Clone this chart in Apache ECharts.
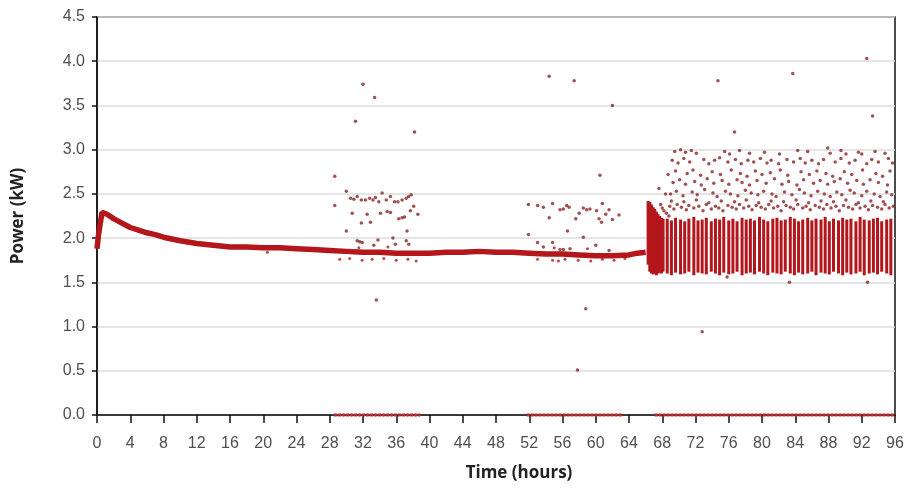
<!DOCTYPE html>
<html>
<head>
<meta charset="utf-8">
<script src="https://cdn.jsdelivr.net/npm/echarts@6/dist/echarts.min.js"></script>
<style>html,body{margin:0;padding:0;background:#fff}#c{width:909px;height:488px}</style>
</head>
<body>
<div id="c"></div>
<script>
// ---- data ----
const xTicks = [0,4,8,12,16,20,24,28,32,36,40,44,48,52,56,60,64,68,72,76,80,84,88,92,96];
const yTicks = [0,0.5,1,1.5,2,2.5,3,3.5,4,4.5];

// steady trace 0-66 h
const baseTimes = [0,0.2,0.6,1.2,2.0,3.0,4,5,6,7,8,10,12,14,16,18,20,22,24,26,28,30,32,34,36,38,40,42,44,46,48,50,52,54,56,58,60,62,64,65,66];
const basePower = [1.88,2.05,2.29,2.27,2.22,2.17,2.12,2.09,2.06,2.04,2.01,1.97,1.94,1.92,1.90,1.90,1.89,1.89,1.88,1.87,1.86,1.85,1.84,1.84,1.83,1.83,1.83,1.84,1.84,1.85,1.84,1.84,1.83,1.82,1.82,1.81,1.80,1.80,1.81,1.83,1.84];

// vertical cycling stripes (burst at 66 h then regular cycling)
const stripeTimes = [66.3,66.5,66.7,66.9,67.1,67.3,67.5,67.7,67.9,68.1,68.6,69.1,69.6,70.2,70.7,71.2,71.8,72.3,72.8,73.3,73.9,74.4,74.9,75.4,76.0,76.5,77.0,77.6,78.1,78.6,79.1,79.7,80.2,80.7,81.3,81.8,82.3,82.8,83.4,83.9,84.4,84.9,85.5,86.0,86.5,87.1,87.6,88.1,88.6,89.2,89.7,90.2,90.7,91.3,91.8,92.3,92.9,93.4,93.9,94.4,95.0,95.5];
const stripeLow   = [1.70,1.62,1.60,1.59,1.60,1.58,1.60,1.61,1.60,1.62,1.60,1.58,1.61,1.59,1.60,1.62,1.58,1.61,1.60,1.59,1.62,1.60,1.58,1.61,1.59,1.60,1.62,1.58,1.60,1.61,1.59,1.62,1.60,1.58,1.61,1.60,1.59,1.62,1.60,1.58,1.61,1.59,1.60,1.62,1.58,1.61,1.60,1.59,1.62,1.60,1.58,1.61,1.59,1.60,1.62,1.58,1.60,1.61,1.59,1.62,1.60,1.58];
const stripeHigh  = [2.42,2.41,2.38,2.35,2.33,2.30,2.27,2.25,2.23,2.22,2.22,2.20,2.23,2.21,2.19,2.22,2.24,2.20,2.21,2.23,2.19,2.22,2.21,2.24,2.20,2.22,2.19,2.23,2.21,2.22,2.20,2.24,2.21,2.19,2.22,2.23,2.20,2.21,2.24,2.22,2.19,2.21,2.23,2.20,2.22,2.21,2.24,2.19,2.22,2.20,2.23,2.21,2.22,2.19,2.24,2.21,2.20,2.22,2.23,2.19,2.21,2.22];

// readings scattered above the cycling band, 67-96 h
const aboveBand = [
 [67.6,2.56],[67.8,2.38],[68.0,2.34],[68.2,2.31],[68.4,2.50],[68.5,2.28],[68.8,2.25],
 [68.9,2.36],[69.4,2.33],[69.8,2.38],[70.3,2.35],[70.9,2.32],[71.2,2.37],[71.8,2.34],[72.4,2.36],[72.9,2.31],[73.3,2.38],[73.9,2.33],[74.4,2.36],[74.8,2.34],[75.3,2.31],[75.9,2.37],[76.4,2.35],[76.9,2.33],[77.3,2.38],[77.8,2.34],[78.4,2.36],[78.8,2.32],[79.3,2.37],[79.9,2.35],[80.4,2.33],[80.8,2.38],[81.4,2.34],[81.9,2.36],[82.3,2.31],[82.9,2.37],[83.4,2.35],[83.8,2.33],[84.3,2.38],[84.9,2.34],[85.3,2.36],[85.8,2.32],[86.4,2.37],[86.9,2.35],[87.4,2.33],[87.8,2.38],[88.3,2.34],[88.9,2.36],[89.3,2.31],[89.8,2.37],[90.4,2.35],[90.9,2.33],[91.3,2.38],[91.8,2.34],[92.4,2.36],[92.8,2.32],[93.3,2.37],[93.9,2.35],[94.4,2.33],[94.8,2.38],[95.3,2.34],[95.8,2.36],
 [69.1,2.42],[70.6,2.41],[72.1,2.43],[73.6,2.40],[75.1,2.42],[76.7,2.41],[78.1,2.43],[79.6,2.40],[81.1,2.42],[82.6,2.41],[84.1,2.43],[85.6,2.40],[87.1,2.42],[88.6,2.41],[90.1,2.43],[91.6,2.40],[93.1,2.42],[94.6,2.41],
 [69.0,2.50],[69.7,2.53],[70.5,2.48],[71.6,2.52],[72.2,2.49],[73.1,2.55],[74.1,2.51],[74.6,2.47],[75.6,2.53],[76.2,2.50],[77.1,2.48],[78.0,2.54],[78.7,2.51],[79.5,2.49],[80.2,2.53],[81.2,2.50],[81.7,2.47],[82.7,2.52],[83.6,2.49],[84.5,2.55],[85.1,2.51],[85.9,2.48],[86.7,2.53],[87.5,2.50],[88.2,2.47],[89.0,2.52],[89.6,2.49],[90.6,2.54],[91.1,2.51],[92.0,2.48],[92.6,2.53],[93.5,2.50],[94.2,2.47],[95.0,2.52],[95.6,2.49],
 [69.3,2.63],[70.1,2.66],[70.8,2.61],[71.9,2.64],[72.7,2.60],[73.4,2.67],[74.2,2.62],[75.2,2.65],[76.0,2.61],[77.0,2.66],[77.6,2.63],[78.5,2.60],[79.4,2.65],[80.5,2.62],[81.5,2.67],[82.4,2.61],[83.2,2.64],[84.2,2.60],[85.0,2.66],[86.2,2.62],[87.0,2.65],[87.9,2.61],[88.7,2.64],[89.4,2.67],[90.3,2.62],[91.4,2.65],[92.2,2.61],[93.0,2.66],[94.0,2.63],[95.1,2.60],
 [68.7,2.72],[69.6,2.76],[71.0,2.73],[71.7,2.77],[72.6,2.71],[74.0,2.75],[75.0,2.72],[76.3,2.77],[77.4,2.73],[78.2,2.70],[79.2,2.76],[80.0,2.72],[81.0,2.74],[82.2,2.77],[83.1,2.71],[84.7,2.75],[85.7,2.72],[86.6,2.76],[87.7,2.73],[88.5,2.70],[89.9,2.75],[90.8,2.72],[92.1,2.77],[93.7,2.73],[94.5,2.70],[95.4,2.76],
 [69.2,2.88],[69.9,2.85],[70.6,2.90],[71.3,2.86],[73.0,2.89],[73.6,2.84],[74.3,2.88],[74.9,2.91],[75.9,2.86],[76.8,2.89],[77.5,2.84],[78.3,2.88],[79.0,2.86],[79.8,2.90],[80.6,2.85],[81.1,2.88],[82.0,2.84],[83.0,2.89],[83.8,2.86],[84.6,2.90],[85.2,2.85],[86.0,2.88],[86.8,2.84],[87.4,2.89],[88.8,2.86],[89.5,2.90],[90.5,2.85],[91.2,2.88],[92.6,2.84],[93.2,2.89],[94.0,2.86],[95.2,2.90],[95.7,2.85],
 [69.5,2.98],[70.2,3.00],[70.8,2.97],[71.5,2.99],[72.1,2.96],[75.5,2.98],[76.1,2.95],[77.3,2.99],[78.5,2.96],[80.3,2.97],[82.1,2.95],[85.5,2.98],[88.2,2.96],[89.5,2.99],[90.1,2.95],[91.6,2.97],[92.0,2.95],[93.6,2.98],[94.8,2.96]
];

// clusters of readings in the 28-39 h and 52-63 h periods
const clusterA = [
 [28.6,2.37],[30.0,2.53],[30.5,2.45],[30.9,2.44],[31.3,2.47],[31.8,2.43],[32.3,2.43],[32.8,2.45],[33.2,2.43],[33.5,2.46],[33.9,2.41],[34.3,2.51],[34.8,2.43],[35.3,2.47],[35.8,2.41],[36.2,2.41],[36.7,2.43],[37.2,2.45],[37.5,2.47],[37.8,2.49],
 [30.7,2.28],[32.5,2.27],[32.9,2.18],[34.1,2.28],[34.9,2.30],[35.3,2.29],[36.3,2.22],[36.7,2.23],[37.0,2.24],[37.7,2.31],[38.1,2.36],[38.6,2.27],[31.8,2.17],
 [30.0,2.08],[37.3,2.08],[31.3,1.97],[31.6,1.96],[31.9,1.95],[33.3,1.92],[33.8,1.98],[35.6,2.00],[35.9,1.93],[37.2,1.97],[37.5,1.93]
];
const clusterB = [
 [51.9,2.38],[53.0,2.37],[53.7,2.35],[54.8,2.39],[54.4,2.23],[51.9,2.04],[53.0,1.95],[53.7,1.90],[54.8,1.95],[55.7,2.32],[56.1,2.33],[56.5,2.37],[56.8,2.35],[56.6,2.08],[57.6,2.22],[58.0,2.28],[58.5,2.34],[58.9,2.32],[59.3,2.33],[58.5,2.01],[60.1,2.31],[60.4,2.22],[60.7,2.18],[60.8,2.39],[61.2,2.27],[61.6,2.32],[62.0,2.21],[62.8,2.26],[60.0,1.92],[55.7,1.87],[56.1,1.87],[56.9,1.88],[61.6,1.86]
];
// scatter just around the trace
const traceJitter = [
 [29.2,1.76],[30.4,1.77],[31.9,1.75],[33.1,1.76],[34.5,1.77],[36.0,1.75],[37.4,1.76],[38.4,1.74],[53.0,1.76],[54.8,1.75],[55.5,1.74],[56.3,1.76],[57.9,1.75],[59.4,1.74],[60.8,1.76],[62.2,1.75],[63.5,1.77],[20.5,1.84],[31.5,1.89],[35.0,1.90],[55.0,1.89],[59.0,1.88]
];
// isolated outliers
const outliers = [
 [28.6,2.70],[31.1,3.32],[32.0,3.74],[33.4,3.59],[38.2,3.20],[33.6,1.30],[54.4,3.83],[57.4,3.78],[62.0,3.50],[60.5,2.71],[57.8,0.51],[58.8,1.20],
 [74.7,3.78],[76.7,3.20],[83.7,3.86],[92.6,4.03],[93.3,3.38],[72.8,0.94],[84.3,2.99],[87.9,3.02],[83.3,1.50],[92.7,1.50],[75.8,1.56]
];
// periods with zero readings (start, end in hours)
const zeroStart = [28.5, 51.7, 67.1];
const zeroEnd   = [38.9, 63.2, 96.0];

// ---- chart ----
const RED = '#b3161b';
const DOT = '#8a2626';
const chart = echarts.init(document.getElementById('c'), null, {renderer:'canvas'});

const stripeData = stripeTimes.map((t,i)=>[t, stripeLow[i], stripeHigh[i]]);
const zeroData = [];
zeroStart.forEach((s,i)=>{ if(i>0) zeroData.push([(zeroEnd[i-1]+s)/2,'-']); zeroData.push([s,0],[zeroEnd[i],0]); });

const labelFont = {fontFamily:'Liberation Sans, Arial, sans-serif', fontSize:16, color:'#505050'};

chart.setOption({
  animation:false,
  backgroundColor:'#fff',
  grid:{left:97,right:14,top:17,bottom:73,show:true,borderColor:'#111',borderWidth:1.5,backgroundColor:'transparent'},
  xAxis:{type:'value',min:0,max:96,interval:4,
    name:'Time (hours)',nameLocation:'middle',nameGap:50,
    nameTextStyle:{fontFamily:'Open Sans, Liberation Sans, sans-serif',fontWeight:'bold',fontSize:17,color:'#222',padding:[0,0,0,46]},
    axisLine:{lineStyle:{color:'#111',width:1.5}},
    axisTick:{show:true,length:8,lineStyle:{color:'#111',width:1.5}},
    axisLabel:Object.assign({margin:21,formatter:v=>xTicks.includes(v)?String(v):''},labelFont),
    splitLine:{show:false}},
  yAxis:{type:'value',min:0,max:4.5,interval:0.5,
    name:'Power (kW)',nameLocation:'middle',nameGap:70,nameRotate:90,
    nameTextStyle:{fontFamily:'Open Sans, Liberation Sans, sans-serif',fontWeight:'bold',fontSize:17,color:'#222'},
    axisLine:{show:true,lineStyle:{color:'#111',width:1.5}},
    axisTick:{show:true,length:5,lineStyle:{color:'#111',width:1.5}},
    axisLabel:Object.assign({margin:12,formatter:v=>yTicks.includes(v)?v.toFixed(1):''},labelFont),
    splitLine:{show:true,lineStyle:{color:'#dcdcdc',width:1.5}}},
  series:[
    {type:'line',data:baseTimes.map((t,i)=>[t,basePower[i]]),showSymbol:false,smooth:false,
      lineStyle:{color:RED,width:5.5},z:3},
    {type:'custom',data:stripeData,encode:{x:0,y:[1,2]},z:3,
      renderItem:(params,api)=>{
        const x=api.value(0);
        const lo=api.coord([x,api.value(1)]);
        const hi=api.coord([x,api.value(2)]);
        return {type:'line',shape:{x1:lo[0],y1:lo[1],x2:hi[0],y2:hi[1]},
          style:{stroke:RED,lineWidth:3}};
      }},
    {type:'line',data:zeroData,showSymbol:false,connectNulls:false,clip:false,
      lineStyle:{color:'#c0282d',width:3,type:[3,1]},z:4},
    {type:'scatter',data:traceJitter,symbolSize:3,itemStyle:{color:RED},z:4},
    {type:'scatter',data:aboveBand,symbolSize:3.5,itemStyle:{color:DOT},z:4},
    {type:'scatter',data:clusterA,symbolSize:3.5,itemStyle:{color:DOT},z:4},
    {type:'scatter',data:clusterB,symbolSize:3.5,itemStyle:{color:DOT},z:4},
    {type:'scatter',data:outliers,symbolSize:3.5,itemStyle:{color:DOT},z:4}
  ]
});
</script>
</body>
</html>
